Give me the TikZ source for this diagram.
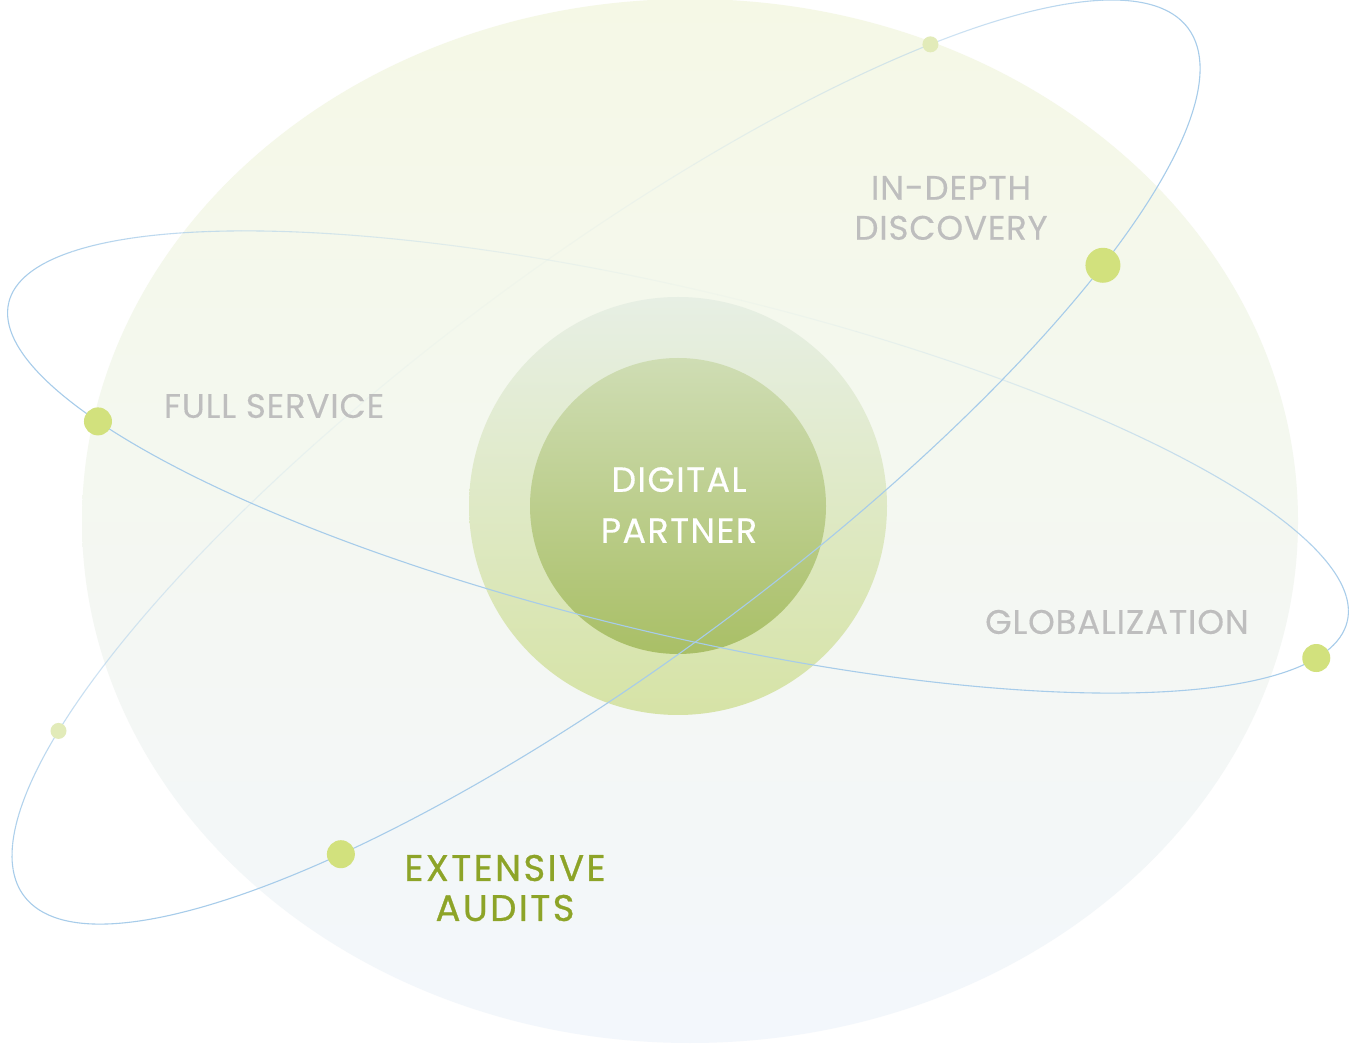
\documentclass[tikz,border=0pt]{standalone}
\usepackage{fontspec}
\setmainfont{Poppins}
\newfontfamily\greyfont{Poppins}[LetterSpace=2.5, FakeBold=0.3]
\newfontfamily\whitefont{Poppins}[LetterSpace=4, FakeBold=0.4]
\newfontfamily\olivefont{Poppins}[LetterSpace=6.5, FakeBold=0.8]
\definecolor{orbitblue}{HTML}{A7CCEA}
\definecolor{dotgreen}{HTML}{D2E17D}
\definecolor{dotlight}{HTML}{E2EBB9}
\definecolor{labelgrey}{HTML}{BEBEBE}
\definecolor{olivetext}{HTML}{8DA428}
\definecolor{bgtop}{HTML}{F5F8E6}
\definecolor{bgmid}{HTML}{FAFBF8}
\definecolor{bgbot}{HTML}{F3F7FC}
\definecolor{outertop}{HTML}{E7EFE4}
\definecolor{outerbot}{HTML}{D6E3A6}
\definecolor{innertop}{HTML}{CFDDB4}
\definecolor{innerbot}{HTML}{A9BF66}
\tikzset{
  orbit/.style={draw=orbitblue, line width=1.1pt},
  bigdot/.style={circle, fill=dotgreen, inner sep=0pt, minimum size=28pt},
  hugedot/.style={circle, fill=dotgreen, inner sep=0pt, minimum size=35pt},
  smalldot/.style={circle, fill=dotlight, inner sep=0pt, minimum size=16pt},
  greylabel/.style={text=labelgrey, font=\greyfont\fontsize{34}{40}\selectfont, align=center, inner sep=0pt},
  partnerlabel/.style={text=white, font=\whitefont\fontsize{35}{51}\selectfont, align=center, inner sep=0pt},
  auditlabel/.style={text=olivetext, font=\olivefont\fontsize{37}{40}\selectfont, align=center, inner sep=0pt}
}
\begin{document}
\begin{tikzpicture}[x=1pt,y=1pt]
\useasboundingbox (0,0) rectangle (1358,1045);
\fill[white] (0,0) rectangle (1358,1045);
% background sphere
\shade[top color=bgtop, middle color=bgmid, bottom color=bgbot] (690,524) ellipse[x radius=608, y radius=522];
% back halves of orbits (fading)
\begin{scope}[shift={(606,583)}, rotate=36.7]
  \foreach \t in {0,2,...,178} {
    \pgfmathsetmacro\op{0.05+0.95*cos(\t+1)*cos(\t+1)}
    \draw[orbit, draw opacity=\op] (\t:726 and 198) arc[start angle=\t, end angle=\t+2, x radius=726, y radius=198];
  }
\end{scope}
\begin{scope}[shift={(678,583)}, rotate=-13.4]
  \foreach \t in {0,2,...,178} {
    \pgfmathsetmacro\op{0.05+0.95*pow(abs(cos(\t+1)),1.6)}
    \draw[orbit, draw opacity=\op] (\t:688 and 172) arc[start angle=\t, end angle=\t+2, x radius=688, y radius=172];
  }
\end{scope}
% central spheres
\shade[top color=outertop, bottom color=outerbot] (678,539) circle[radius=209];
\shade[top color=innertop, bottom color=innerbot] (678,539) circle[radius=148];
% front halves
\begin{scope}[shift={(606,583)}, rotate=36.7]
  \draw[orbit] (180:726 and 198) arc[start angle=180, end angle=360, x radius=726, y radius=198];
  \node[smalldot] (d1) at (45.4:726 and 198) {};
  \node[hugedot] (d2) at (315.3:726 and 198) {};
  \node[bigdot] (d3) at (232:726 and 198) {};
  \node[smalldot] (d4) at (145.7:726 and 198) {};
\end{scope}
\begin{scope}[shift={(678,583)}, rotate=-13.4]
  \draw[orbit] (180:688 and 172) arc[start angle=180, end angle=360, x radius=688, y radius=172];
  \node[bigdot] (d5) at (213.5:688 and 172) {};
  \node[bigdot] (d6) at (345.6:688 and 172) {};
\end{scope}
% labels
\node[greylabel] (discovery) at (951,837) {IN-DEPTH\\DISCOVERY};
\node[greylabel] (full) at (274,639) {FULL SERVICE};
\node[greylabel] (glob) at (1117,423) {GLOBALIZATION};
\node[partnerlabel] (partner) at (679,540) {DIGITAL\\PARTNER};
\node[auditlabel] (audits) at (505,157) {EXTENSIVE\\AUDITS};
\end{tikzpicture}
\end{document}
